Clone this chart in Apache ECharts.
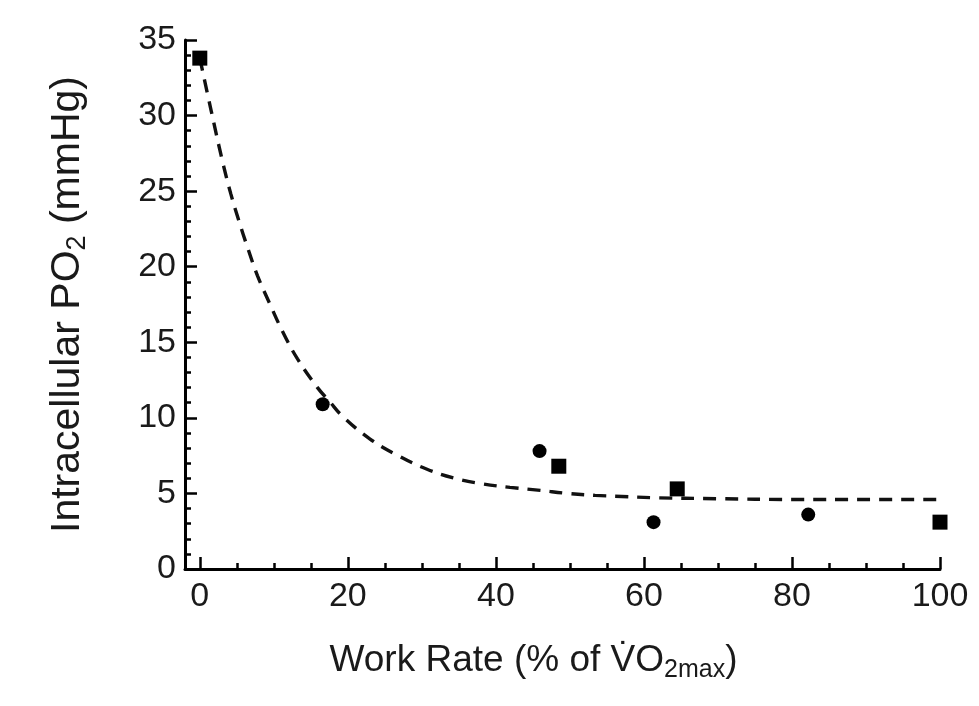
<!DOCTYPE html>
<html>
<head>
<meta charset="utf-8">
<script src="https://cdn.jsdelivr.net/npm/echarts@6/dist/echarts.min.js"></script>
<style>
  html,body{margin:0;padding:0;background:#fff;}
  #chart{width:979px;height:706px;}
</style>
</head>
<body>
<div id="chart"></div>
<script>
// measured points (squares and circles)
const squareX = [0, 48.5, 64.5, 100]
const squareY = [33.8, 6.8, 5.3, 3.1]
const circleX = [16.6, 45.9, 61.3, 82.2]
const circleY = [10.9, 7.8, 3.1, 3.6]

// dashed fit curve
const fitX = [0, 1.5, 3.1, 4.2, 5.3, 6.5, 7.8, 9.5, 11.2, 13.2, 15.9, 17.5, 19.3, 23, 26.8, 30.7, 34.5, 38, 41.9, 46, 49.7, 53.4, 57, 61, 70, 80, 90, 100]
const fitY = [33.8, 30.4, 26.9, 24.8, 23, 21.2, 19.4, 17.5, 15.7, 13.9, 12.0, 11.1, 10.1, 8.6, 7.5, 6.6, 6.0, 5.65, 5.4, 5.2, 5.0, 4.87, 4.8, 4.72, 4.65, 4.6, 4.6, 4.6]

// tick values
const xMajorTicks = [0, 20, 40, 60, 80, 100]
const xMinorTicks = [5, 10, 15, 25, 30, 35, 45, 50, 55, 65, 70, 75, 85, 90, 95]

const pair = (xs, ys) => xs.map((x, i) => [x, ys[i]])

const font = 'Liberation Sans, Arial, Helvetica, sans-serif'
const ink = '#1a1a1a'

var myChart = echarts.init(document.getElementById('chart'))
const option = {
  animation: false,
  grid: {
    left: 185,
    right: 39,
    top: 40,
    bottom: 137
  },
  xAxis: [
    {
      type: 'value',
      min: -2,
      max: 100,
      position: 'bottom',
      name: '{t|Work Rate (% of V\u0307O}{s|2max}{t|)}',
      nameLocation: 'middle',
      nameGap: 70,
      nameTextStyle: {
        // title sits a bit left of the axis centre
        padding: [0, 58, 0, 0],
        rich: {
          t: { fontSize: 37, fontFamily: font, color: ink, lineHeight: 44 },
          s: { fontSize: 25, fontFamily: font, color: ink, verticalAlign: 'bottom', lineHeight: 22 }
        }
      },
      axisLine: { onZero: false, lineStyle: { color: '#000', width: 3 } },
      axisTick: { inside: true, length: 12, customValues: xMajorTicks, lineStyle: { color: '#000', width: 2.5 } },
      axisLabel: { customValues: xMajorTicks, fontSize: 34, fontFamily: font, color: ink, margin: 11 },
      splitLine: { show: false }
    },
    {
      // minor ticks only
      type: 'value',
      min: -2,
      max: 100,
      position: 'bottom',
      axisLine: { show: false, onZero: false },
      axisTick: { inside: true, length: 6, customValues: xMinorTicks, lineStyle: { color: '#000', width: 2.5 } },
      axisLabel: { show: false },
      splitLine: { show: false }
    }
  ],
  yAxis: {
    type: 'value',
    min: 0,
    max: 35,
    interval: 5,
    name: '{t|Intracellular PO}{s|2}{t| (mmHg)}',
    nameLocation: 'middle',
    nameRotate: 90,
    nameGap: 94,
    nameTextStyle: {
      rich: {
        t: { fontSize: 41, fontFamily: font, color: ink, lineHeight: 46 },
        s: { fontSize: 27, fontFamily: font, color: ink, verticalAlign: 'bottom', lineHeight: 24 }
      }
    },
    axisLine: { show: true, onZero: false, lineStyle: { color: '#000', width: 3 } },
    axisTick: { show: true, inside: true, length: 12, lineStyle: { color: '#000', width: 2.5 } },
    minorTick: { show: true, splitNumber: 5, length: 6, lineStyle: { color: '#000', width: 2.5 } },
    axisLabel: { fontSize: 34, fontFamily: font, color: ink, margin: 9 },
    splitLine: { show: false },
    minorSplitLine: { show: false }
  },
  series: [
    {
      type: 'line',
      data: pair(fitX, fitY),
      showSymbol: false,
      smooth: 0.4,
      lineStyle: { color: '#111', width: 3.4, type: [13, 9] },
      z: 1
    },
    {
      type: 'scatter',
      data: pair(squareX, squareY),
      symbol: 'rect',
      symbolSize: 15,
      itemStyle: { color: '#000', opacity: 1 },
      z: 3
    },
    {
      type: 'scatter',
      data: pair(circleX, circleY),
      symbol: 'circle',
      symbolSize: 14,
      itemStyle: { color: '#000', opacity: 1 },
      z: 3
    }
  ]
}
myChart.setOption(option)
</script>
</body>
</html>
